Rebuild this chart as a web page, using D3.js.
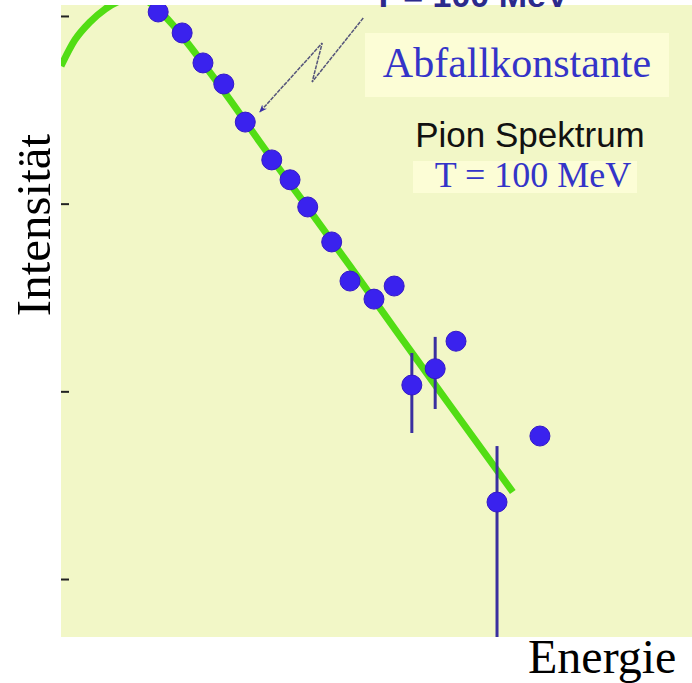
<!DOCTYPE html>
<html>
<head>
<meta charset="utf-8">
<script src="https://cdn.jsdelivr.net/npm/d3@7"></script>
<style>
  html, body { margin: 0; padding: 0; background: #fff; }
  svg { display: block; }
</style>
</head>
<body>
<svg id="chart"></svg>
<script>
// measured points (energy in MeV, intensity arbitrary, log scale)
const energy = [154, 192, 225, 258, 292, 334, 363, 391, 429, 458, 496, 528, 556, 593, 626, 691, 759];
const intensity = [1050, 812, 562, 434, 272, 171, 134, 96, 62.5, 38.7, 31, 36.4, 10.8, 13.2, 18.5, 2.57, 5.78];
// error bars: [index, low, high]
const errors = [[12, 6.0, 16.0], [13, 8.05, 19.5], [15, 0.3, 5.11]];

// thermal fit curve
const fitE = [0, 22, 46, 70, 93, 112, 133, 154, 176, 198, 220, 268, 315, 379, 458, 537, 616, 716];
const fitI = [541, 745, 929, 1089, 1202, 1247, 1217, 1076, 906, 736, 590, 357, 213, 108, 46.5, 19.7, 8.46, 2.91];

const yTicks = [1, 10, 100, 1000];

// arrow pointing at the fit (data coords)
const arrowE = [479, 398, 414, 315];
const arrowI = [975, 445, 718, 308];

const width = 692, height = 683;
const plot = {left: 61, right: 692, top: 5, bottom: 637};

const svg = d3.select("#chart")
    .attr("width", width)
    .attr("height", height)
    .attr("viewBox", [0, 0, width, height]);

const x = d3.scaleLinear().domain([0, 1000]).range([plot.left, plot.right]);
const y = d3.scaleLog().domain([0.491, 1144]).range([plot.bottom, plot.top]);

svg.append("defs").append("clipPath").attr("id", "clip")
  .append("rect")
    .attr("x", plot.left).attr("y", plot.top)
    .attr("width", plot.right - plot.left).attr("height", plot.bottom - plot.top);

svg.select("defs").append("marker")
    .attr("id", "head")
    .attr("viewBox", "0 0 10 10")
    .attr("refX", 9).attr("refY", 5)
    .attr("markerWidth", 8).attr("markerHeight", 8)
    .attr("markerUnits", "userSpaceOnUse")
    .attr("orient", "auto")
  .append("path")
    .attr("d", "M0,1 L10,5 L0,9 L3,5 Z")
    .attr("fill", "#3a2fa8");

// background
svg.append("rect")
    .attr("x", plot.left).attr("y", plot.top)
    .attr("width", plot.right - plot.left).attr("height", plot.bottom - plot.top)
    .attr("fill", "#f2f7c7");

// ticks
const axis = svg.append("g")
    .attr("transform", `translate(${plot.left},0)`)
    .call(d3.axisRight(y).tickValues(yTicks).tickSize(8).tickFormat(""));
axis.select(".domain").remove();
axis.selectAll("line").attr("stroke", "#222").attr("stroke-width", 2);

const g = svg.append("g").attr("clip-path", "url(#clip)");

// fit curve
const fit = fitE.map((e, i) => [e, fitI[i]]);
g.append("path")
    .datum(fit)
    .attr("fill", "none")
    .attr("stroke", "#52dd14")
    .attr("stroke-width", 7)
    .attr("stroke-linecap", "butt")
    .attr("d", d3.line().x(d => x(d[0])).y(d => y(d[1])).curve(d3.curveMonotoneX));

// error bars
g.selectAll("line.err")
  .data(errors)
  .join("line")
    .attr("class", "err")
    .attr("x1", d => x(energy[d[0]])).attr("x2", d => x(energy[d[0]]))
    .attr("y1", d => y(d[1])).attr("y2", d => y(d[2]))
    .attr("stroke", "#3a2fa0")
    .attr("stroke-width", 3);

// points
g.selectAll("circle")
  .data(energy.map((e, i) => [e, intensity[i]]))
  .join("circle")
    .attr("cx", d => x(d[0]))
    .attr("cy", d => y(d[1]))
    .attr("r", 10)
    .attr("fill", "#3a22ee")
    .attr("stroke", "#3418c8")
    .attr("stroke-width", 1);

// zigzag arrow
svg.append("path")
    .datum(arrowE.map((e, i) => [e, arrowI[i]]))
    .attr("fill", "none")
    .attr("stroke", "#55557a")
    .attr("stroke-width", 1.5)
    .attr("stroke-dasharray", "4,1")
    .attr("marker-end", "url(#head)")
    .attr("d", d3.line().x(d => x(d[0])).y(d => y(d[1])));

// title at the very top, cut off by the picture edge as in the source slide
svg.append("text")
    .attr("x", 373).attr("y", 7)
    .attr("font-family", "Liberation Sans, Arial, sans-serif")
    .attr("font-weight", "bold")
    .attr("font-size", 34)
    .attr("fill", "#2c2a8c")
    .text("T = 100 MeV");

// Abfallkonstante box
svg.append("rect")
    .attr("x", 365).attr("y", 33).attr("width", 304).attr("height", 64)
    .attr("fill", "#fcfdd6");
svg.append("text")
    .attr("x", 517).attr("y", 77)
    .attr("text-anchor", "middle")
    .attr("font-family", "Liberation Serif, Times New Roman, serif")
    .attr("font-size", 42)
    .attr("fill", "#3434c8")
    .text("Abfallkonstante");

svg.append("text")
    .attr("x", 530).attr("y", 147)
    .attr("text-anchor", "middle")
    .attr("font-family", "Liberation Sans, Arial, sans-serif")
    .attr("font-size", 35)
    .attr("fill", "#111")
    .text("Pion Spektrum");

svg.append("rect")
    .attr("x", 413).attr("y", 161).attr("width", 224).attr("height", 32)
    .attr("fill", "#fcfdd6");
svg.append("text")
    .attr("x", 533).attr("y", 187)
    .attr("text-anchor", "middle")
    .attr("font-family", "Liberation Serif, Times New Roman, serif")
    .attr("font-size", 36)
    .attr("fill", "#3434c8")
    .text("T = 100 MeV");

// axis titles
svg.append("text")
    .attr("transform", "translate(50,225) rotate(-90)")
    .attr("text-anchor", "middle")
    .attr("font-family", "Liberation Serif, Times New Roman, serif")
    .attr("font-size", 49)
    .attr("fill", "#000")
    .text("Intensität");

svg.append("text")
    .attr("x", 528).attr("y", 673)
    .attr("font-family", "Liberation Serif, Times New Roman, serif")
    .attr("font-size", 48)
    .attr("fill", "#000")
    .text("Energie");
</script>
</body>
</html>
